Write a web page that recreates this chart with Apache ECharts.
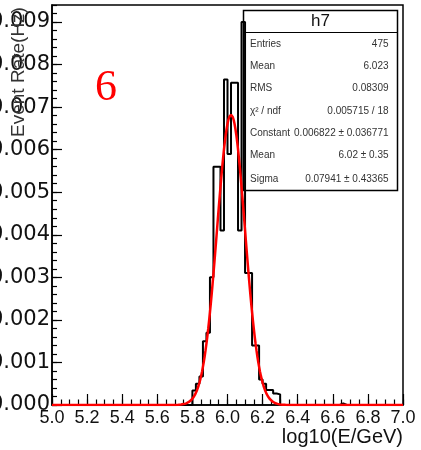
<!DOCTYPE html>
<html>
<head>
<meta charset="utf-8">
<script src="https://cdn.jsdelivr.net/npm/echarts@6/dist/echarts.min.js"></script>
<style>
  html, body { margin: 0; padding: 0; background: #fff; }
  #chart { width: 421px; height: 450px; }
</style>
</head>
<body>
<div id="chart"></div>
<script>
// Histogram h7: event rate in 0.02-wide bins of log10(E/GeV)
const histRange = [5.0, 7.0];
const histBinWidth = 0.02;
const filledBinStarts = [
  5.80, 5.82, 5.84, 5.86, 5.88, 5.90, 5.92, 5.94, 5.96, 5.98,
  6.00, 6.02, 6.04, 6.06, 6.08, 6.10, 6.12, 6.14, 6.16, 6.18,
  6.20, 6.22, 6.24, 6.26, 6.28, 6.64
];
const eventRate = [
  0.00034, 0.00050, 0.00067, 0.00150, 0.00170, 0.00300, 0.00560, 0.00560, 0.00410, 0.00765,
  0.00590, 0.00757, 0.00757, 0.00410, 0.00900, 0.00310, 0.00310, 0.00140, 0.00140, 0.00060,
  0.00050, 0.00035, 0.00035, 0.00027, 0.00025, 0.00004
];

// Gaussian fit parameters
const fitConstant = 0.006822;
const fitMean = 6.02;
const fitSigma = 0.07941;

// Statistics box
const statsTitle = 'h7';
const statLabels = ['Entries', 'Mean', 'RMS', 'χ² / ndf', 'Constant', 'Mean', 'Sigma'];
const statValues = ['475', '6.023', '0.08309', '0.005715 / 18', '0.006822 ± 0.036771', '6.02 ± 0.35', '0.07941 ± 0.43365'];

// Axis ticks
const xMajorStep = 0.2, xMinorStep = 0.05;
const yMax = 0.0094, yMajorStep = 0.001, yMinorStep = 0.0002;
const panelTag = '6';

// Step outline of the histogram (bin left edges, plus closing edge)
const nBins = Math.round((histRange[1] - histRange[0]) / histBinWidth);
const contents = new Array(nBins).fill(0);
filledBinStarts.forEach((s, i) => {
  contents[Math.round((s - histRange[0]) / histBinWidth)] = eventRate[i];
});
const histPoints = [];
for (let i = 0; i < nBins; i++) {
  histPoints.push([+(histRange[0] + i * histBinWidth).toFixed(4), contents[i]]);
}
histPoints.push([histRange[1], contents[nBins - 1]]);

// Fitted Gaussian sampled across the axis range
const fitPoints = [];
for (let i = 0; i <= 400; i++) {
  const x = histRange[0] + i * (histRange[1] - histRange[0]) / 400;
  const u = (x - fitMean) / fitSigma;
  fitPoints.push([x, fitConstant * Math.exp(-0.5 * u * u)]);
}

const GRID = { left: 52, right: 18, top: 5, bottom: 45 };
const boxL = 243.5, boxT = 10.5, boxW = 154, boxH = 180;

const statsElements = [
  { type: 'rect', shape: { x: boxL, y: boxT, width: boxW, height: boxH },
    style: { fill: '#fff', stroke: '#000', lineWidth: 1.5 } },
  { type: 'line', shape: { x1: boxL, y1: 32.5, x2: boxL + boxW, y2: 32.5 },
    style: { stroke: '#000', lineWidth: 1.2 } },
  { type: 'text', x: boxL + boxW / 2, y: 21.5,
    style: { text: statsTitle, font: '17px "Liberation Sans", Arial, sans-serif', fill: '#111',
             align: 'center', verticalAlign: 'middle', textAlign: 'center', textVerticalAlign: 'middle' } }
];
const rowY = [44, 66, 88.5, 111, 133.5, 155.5, 179];
statLabels.forEach((lab, i) => {
  statsElements.push({ type: 'text', x: 250, y: rowY[i],
    style: { text: lab, font: '10px "Liberation Sans", Arial, sans-serif', fill: '#333',
             align: 'left', verticalAlign: 'middle', textAlign: 'left', textVerticalAlign: 'middle' } });
  statsElements.push({ type: 'text', x: 388.5, y: rowY[i],
    style: { text: statValues[i], font: '10px "Liberation Sans", Arial, sans-serif', fill: '#333',
             align: 'right', verticalAlign: 'middle', textAlign: 'right', textVerticalAlign: 'middle' } });
});

const chart = echarts.init(document.getElementById('chart'), null, { renderer: 'canvas' });
chart.setOption({
  animation: false,
  backgroundColor: '#fff',
  grid: { ...GRID, containLabel: false, outerBoundsMode: 'none',
          show: true, borderColor: '#000', borderWidth: 1.5, backgroundColor: 'transparent' },
  xAxis: [
    { type: 'value', min: histRange[0], max: histRange[1], interval: xMajorStep,
      axisLine: { lineStyle: { color: '#000', width: 1.5 } },
      axisTick: { inside: true, length: 11, lineStyle: { color: '#000', width: 1.2 } },
      axisLabel: { formatter: v => v.toFixed(1), fontSize: 18, fontFamily: 'Liberation Sans',
                   color: '#111', margin: 4, showMinLabel: true, showMaxLabel: true },
      splitLine: { show: false } },
    { type: 'value', position: 'bottom', min: histRange[0], max: histRange[1], interval: xMinorStep,
      axisLine: { show: false },
      axisTick: { inside: true, length: 5.5, lineStyle: { color: '#000', width: 1.2 } },
      axisLabel: { show: false }, splitLine: { show: false } }
  ],
  yAxis: [
    { type: 'value', min: 0, max: yMax, interval: yMajorStep,
      axisLine: { show: true, lineStyle: { color: '#000', width: 1.5 } },
      axisTick: { show: true, inside: true, length: 10, lineStyle: { color: '#000', width: 1.2 } },
      axisLabel: { formatter: v => v.toFixed(3), fontSize: 21, fontFamily: 'DejaVu Sans',
                   color: '#111', margin: 2, showMaxLabel: false },
      splitLine: { show: false } },
    { type: 'value', position: 'left', min: 0, max: yMax, interval: yMinorStep,
      axisLine: { show: false },
      axisTick: { show: true, inside: true, length: 5, lineStyle: { color: '#000', width: 1.2 } },
      axisLabel: { show: false }, splitLine: { show: false } }
  ],
  series: [
    { name: 'h7', type: 'line', xAxisIndex: 0, yAxisIndex: 0, data: histPoints, step: 'end',
      symbol: 'none', lineStyle: { color: '#000', width: 2 }, z: 2 },
    { name: 'gaus', type: 'line', xAxisIndex: 0, yAxisIndex: 0, data: fitPoints,
      symbol: 'none', lineStyle: { color: '#ff0000', width: 2.5 }, z: 3 }
  ],
  graphic: [
    { type: 'group', z: 100, children: statsElements },
    { type: 'text', z: 100, x: 403, y: 437,
      style: { text: 'log10(E/GeV)', font: '20px "Liberation Sans", Arial, sans-serif', fill: '#111',
               align: 'right', verticalAlign: 'middle', textAlign: 'right', textVerticalAlign: 'middle' } },
    { type: 'text', z: 100, x: 19, y: 72, rotation: Math.PI / 2,
      style: { text: 'Event Rate(Hz)', font: '19px "Liberation Sans", Arial, sans-serif', fill: '#333',
               align: 'center', verticalAlign: 'middle', textAlign: 'center', textVerticalAlign: 'middle' } },
    { type: 'text', z: 100, x: 106, y: 88,
      style: { text: panelTag, font: '44px "Liberation Serif", "Times New Roman", serif', fill: '#ff0000',
               align: 'center', verticalAlign: 'middle', textAlign: 'center', textVerticalAlign: 'middle' } }
  ]
});
</script>
</body>
</html>
